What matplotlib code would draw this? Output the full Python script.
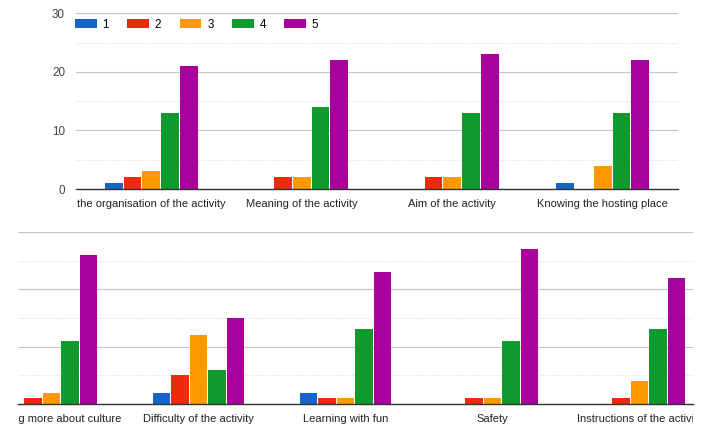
import matplotlib
matplotlib.use("Agg")
import matplotlib.pyplot as plt
import numpy as np
from matplotlib.transforms import Bbox, TransformedBbox

plt.rcParams["font.family"] = ["Liberation Sans", "DejaVu Sans"]

series = ["1", "2", "3", "4", "5"]
colors = ["#1565c8", "#ee2a0c", "#ff9900", "#0f9a2e", "#a8009c"]

top_labels = ["the organisation of the activity", "Meaning of the activity",
              "Aim of the activity", "Knowing the hosting place"]
top_values = [
    [1, 0, 0, 1],      # 1
    [2, 2, 2, 0],      # 2
    [3, 2, 2, 4],      # 3
    [13, 14, 13, 13],  # 4
    [21, 22, 23, 22],  # 5
]

bottom_labels = ["Learning more about culture", "Difficulty of the activity",
                 "Learning with fun", "Safety", "Instructions of the activity"]
bottom_values = [
    [0, 2, 2, 0, 0],       # 1
    [1, 5, 1, 1, 1],       # 2
    [2, 12, 1, 1, 4],      # 3
    [11, 6, 13, 11, 13],   # 4
    [26, 15, 23, 27, 22],  # 5
]

W, H = 725, 437
fig = plt.figure(figsize=(W / 100, H / 100), dpi=100)


def px_axes(left, top, right, bottom):
    return fig.add_axes([left / W, 1 - bottom / H, (right - left) / W, (bottom - top) / H])


def draw_bars(ax, labels, values, xlim):
    x = np.arange(len(labels))
    pitch = 0.125
    for i, (name, vals) in enumerate(zip(series, values)):
        ax.bar(x + (i - 2) * pitch, vals, width=pitch * 0.95, color=colors[i], label=name, zorder=3)
    ax.set_xlim(*xlim)
    ax.set_ylim(0, 30)
    ax.set_yticks([0, 10, 20, 30])
    ax.set_yticks([5, 15, 25], minor=True)
    ax.grid(axis="y", which="major", color="#c4c4c4", lw=0.8, zorder=0)
    ax.grid(axis="y", which="minor", color="#e6e2e6", lw=0.8, linestyle=(0, (1, 1)), zorder=0)
    for s in ["top", "left", "right"]:
        ax.spines[s].set_visible(False)
    ax.spines["bottom"].set_color("#333333")
    ax.spines["bottom"].set_linewidth(1.0)
    ax.spines["bottom"].set_zorder(4)
    ax.tick_params(axis="both", which="both", length=0)
    ax.tick_params(axis="x", pad=7, labelsize=8, labelcolor="#222222")
    ax.tick_params(axis="y", pad=8, labelsize=8.4, labelcolor="#444444")
    ax.set_xticks(x, labels)


# top chart
ax1 = px_axes(76, 13.3, 678, 189)
draw_bars(ax1, top_labels, top_values, (-0.5, 3.5))
ax1.legend(loc="upper left", bbox_to_anchor=(75 / W, 1 - 18.5 / H), bbox_transform=fig.transFigure,
           ncol=5, frameon=False, fontsize=8.4, handlelength=1.85, handleheight=0.85,
           handletextpad=0.5, columnspacing=1.58, borderaxespad=0, borderpad=0)

# bottom chart, cropped on both sides like the reference
c0, step = 51.5, 147.0
ax2 = px_axes(18, 232, 693, 404)
draw_bars(ax2, bottom_labels, bottom_values, ((18 - c0) / step, (693 - c0) / step))
ax2.set_yticklabels([])
clip = TransformedBbox(Bbox([[18 / W, 0], [693 / W, 1]]), fig.transFigure)
for t in ax2.get_xticklabels():
    t.set_clip_box(clip)
    t.set_clip_on(True)

fig.savefig("out.png", dpi=100)
